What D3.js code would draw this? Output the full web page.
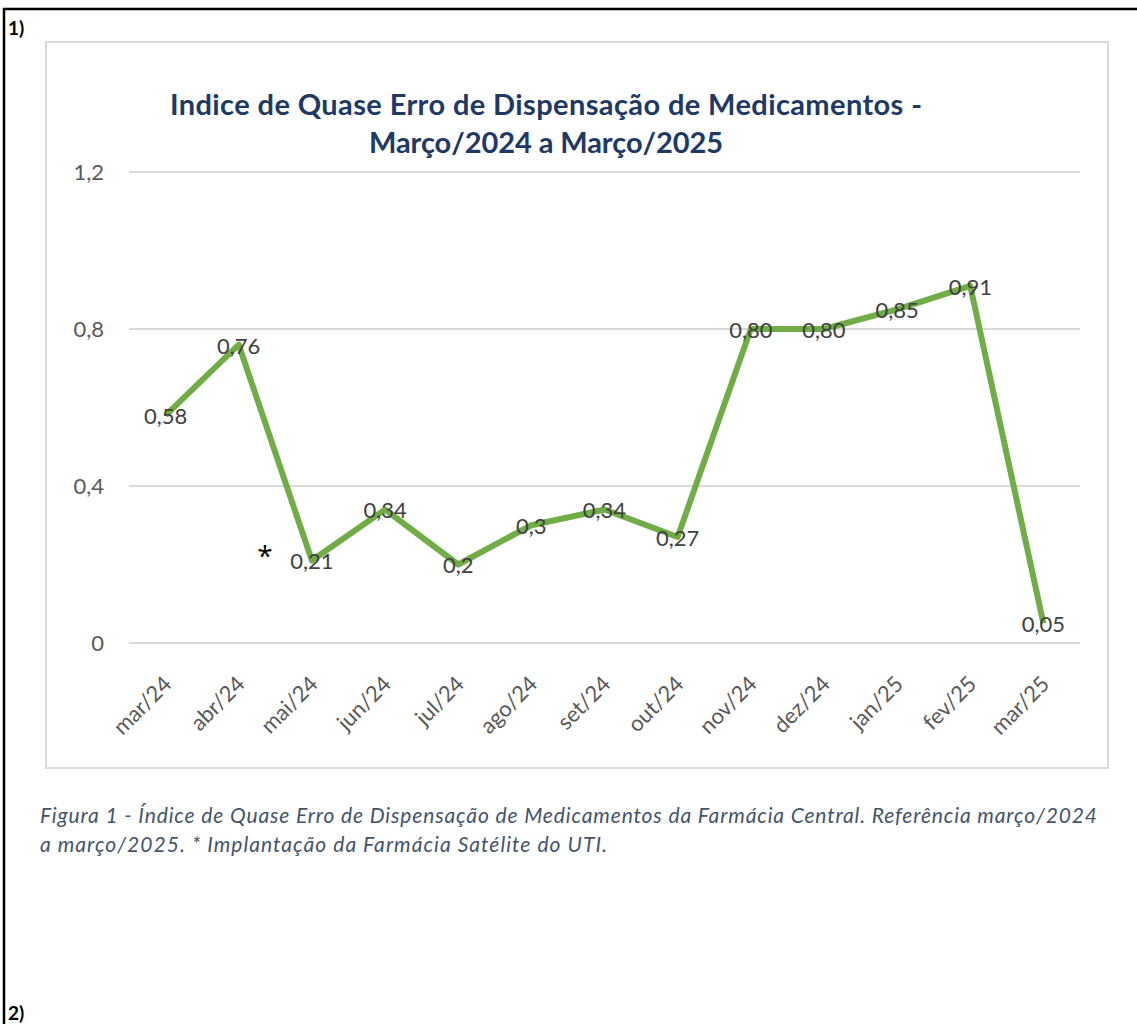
<!DOCTYPE html>
<html>
<head>
<meta charset="utf-8">
<script src="https://cdn.jsdelivr.net/npm/d3@7"></script>
<style>
  body { margin: 0; background: #fff; }
  svg { display: block; }
</style>
</head>
<body>
<script>
// Chart data
var months = ["mar/24", "abr/24", "mai/24", "jun/24", "jul/24", "ago/24", "set/24",
              "out/24", "nov/24", "dez/24", "jan/25", "fev/25", "mar/25"];
var values = [0.58, 0.76, 0.21, 0.34, 0.2, 0.3, 0.34, 0.27, 0.80, 0.80, 0.85, 0.91, 0.05];
var valueLabels = ["0,58", "0,76", "0,21", "0,34", "0,2", "0,3", "0,34", "0,27",
                   "0,80", "0,80", "0,85", "0,91", "0,05"];
var yTicks = [0, 0.4, 0.8, 1.2];
var yTickLabels = ["0", "0,4", "0,8", "1,2"];

var w = 1137;
var h = 1024;
var font = "Lato, 'Open Sans', sans-serif";

var svg = d3.select("body")
    .append("svg")
    .attr("width", w)
    .attr("height", h);

// outer document box
svg.append("path")
    .attr("d", "M4,1024 V9 H1140")
    .attr("fill", "none")
    .attr("stroke", "#000")
    .attr("stroke-width", 2.5);

svg.append("text")
    .attr("x", 8).attr("y", 35)
    .attr("font-family", font).attr("font-weight", "bold")
    .attr("font-size", 19)
    .text("1)");

svg.append("text")
    .attr("x", 8).attr("y", 1020)
    .attr("font-family", font).attr("font-weight", "bold")
    .attr("font-size", 19)
    .text("2)");

// chart area box
svg.append("rect")
    .attr("x", 46).attr("y", 42)
    .attr("width", 1062).attr("height", 726)
    .attr("fill", "#fff")
    .attr("stroke", "#d9d9d9")
    .attr("stroke-width", 2);

// Scales
var xScale = d3.scaleBand()
    .domain(months)
    .range([129, 1080]);

var yScale = d3.scaleLinear()
    .domain([0, 1.2])
    .range([643, 172]);

// gridlines
svg.selectAll(".grid")
    .data(yTicks)
    .enter()
    .append("line")
    .attr("x1", 129).attr("x2", 1080)
    .attr("y1", function(d) { return yScale(d); })
    .attr("y2", function(d) { return yScale(d); })
    .attr("stroke", "#d9d9d9")
    .attr("stroke-width", 2);

// y axis labels
var yAxis = d3.axisLeft(yScale)
    .tickValues(yTicks)
    .tickSize(0)
    .tickPadding(0)
    .tickFormat(function(d, i) { return yTickLabels[i]; });

var gy = svg.append("g")
    .attr("transform", "translate(104,0)")
    .call(yAxis);
gy.select(".domain").remove();
gy.selectAll("text")
    .attr("font-family", font)
    .attr("font-size", 22)
    .attr("fill", "#595959");

// x axis labels, rotated
var xAxis = d3.axisBottom(xScale).tickSize(0).tickPadding(0);
var gx = svg.append("g")
    .attr("transform", "translate(0,660)")
    .call(xAxis);
gx.select(".domain").remove();
gx.selectAll("text")
    .attr("font-family", font)
    .attr("font-size", 22)
    .attr("fill", "#595959")
    .attr("text-anchor", "end")
    .attr("dy", "0.35em")
    .attr("transform", "translate(2,20) rotate(-45)");

// line
var line = d3.line()
    .x(function(d, i) { return xScale(months[i]) + xScale.bandwidth() / 2; })
    .y(function(d) { return yScale(d); });

svg.append("path")
    .datum(values)
    .attr("d", line)
    .attr("fill", "none")
    .attr("stroke", "#70ad47")
    .attr("stroke-width", 6)
    .attr("stroke-linejoin", "round");

// data labels centred on points
svg.selectAll(".vlabel")
    .data(values)
    .enter()
    .append("text")
    .attr("x", function(d, i) { return xScale(months[i]) + xScale.bandwidth() / 2; })
    .attr("y", function(d) { return yScale(d); })
    .attr("dy", "0.4em")
    .attr("text-anchor", "middle")
    .attr("font-family", font)
    .attr("font-size", 22)
    .attr("fill", "#404040")
    .text(function(d, i) { return valueLabels[i]; });

// asterisk marker
svg.append("text")
    .attr("x", 265).attr("y", 566)
    .attr("text-anchor", "middle")
    .attr("font-family", "'Open Sans', sans-serif")
    .attr("font-size", 28)
    .attr("fill", "#000")
    .text("*");

// title
var title = svg.append("text")
    .attr("text-anchor", "middle")
    .attr("font-family", font)
    .attr("font-weight", "bold")
    .attr("font-size", 29)
    .attr("fill", "#203864");
title.append("tspan").attr("x", 546).attr("y", 115)
    .attr("textLength", 752)
    .text("Indice de Quase Erro de Dispensação de Medicamentos -");
title.append("tspan").attr("x", 546).attr("y", 153)
    .attr("textLength", 354)
    .text("Março/2024 a Março/2025");

// caption
var cap = svg.append("text")
    .attr("font-family", font)
    .attr("font-style", "italic")
    .attr("font-size", 21)
    .attr("fill", "#44546a");
cap.append("tspan").attr("x", 40).attr("y", 823)
    .attr("textLength", 1057)
    .text("Figura 1 - Índice de Quase Erro de Dispensação de Medicamentos da Farmácia Central. Referência março/2024");
cap.append("tspan").attr("x", 40).attr("y", 852)
    .attr("textLength", 567)
    .text("a março/2025. * Implantação da Farmácia Satélite do UTI.");
</script>
</body>
</html>
